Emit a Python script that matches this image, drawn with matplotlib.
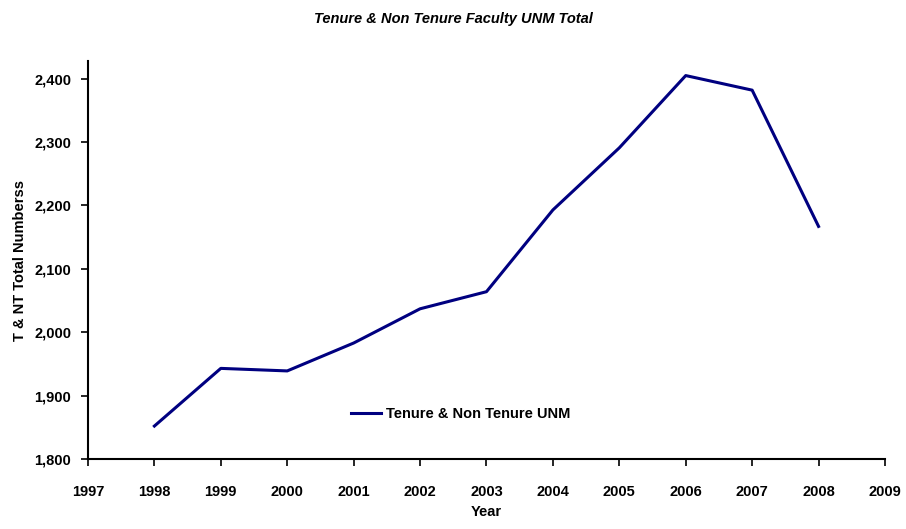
import numpy as np
import matplotlib.pyplot as plt
from matplotlib.ticker import FuncFormatter

# datos
years = [1998, 1999, 2000, 2001, 2002, 2003, 2004, 2005, 2006, 2007, 2008]
totals = [1852, 1943, 1939, 1983, 2037, 2064, 2193, 2291, 2405, 2382, 2167]

plt.rcParams['font.family'] = ['Liberation Sans', 'DejaVu Sans']

fig = plt.figure(figsize=(9.06, 5.29), dpi=100)
ax = fig.add_axes([0.0971, 0.1323, 0.8797, 0.7524])

ax.plot(years, totals, color="#000080", linewidth=2.2, label="Tenure & Non Tenure UNM")

ax.set_xlim(1997, 2009)
ax.set_ylim(1800, 2428)
ax.set_xticks(np.arange(1997, 2010, 1))
ax.set_yticks(np.arange(1800, 2401, 100))
ax.yaxis.set_major_formatter(FuncFormatter(lambda v, p: f"{int(v):,}"))

for s in ["top", "right"]:
    ax.spines[s].set_visible(False)
for s in ["left", "bottom"]:
    ax.spines[s].set_linewidth(1.5)
ax.tick_params(direction="out", length=5, width=1.2, labelsize=10.5)
ax.tick_params(axis="x", pad=14)
ax.tick_params(axis="y", pad=7)
for lab in ax.get_xticklabels() + ax.get_yticklabels():
    lab.set_fontweight("bold")

ax.set_xlabel("Year", fontsize=10.5, fontweight="bold", labelpad=4)
ax.set_ylabel("T & NT Total Numberss", fontsize=10.5, fontweight="bold", labelpad=5)
fig.suptitle("Tenure & Non Tenure Faculty UNM Total", x=0.5, y=0.978,
             fontsize=10.5, fontweight="bold", fontstyle="italic")

leg = ax.legend(loc="lower left", bbox_to_anchor=(0.314, 0.063), frameon=False,
                prop={"weight": "bold", "size": 10.5}, handlelength=2.0, handletextpad=0.4)

fig.savefig("out.png", dpi=100)
